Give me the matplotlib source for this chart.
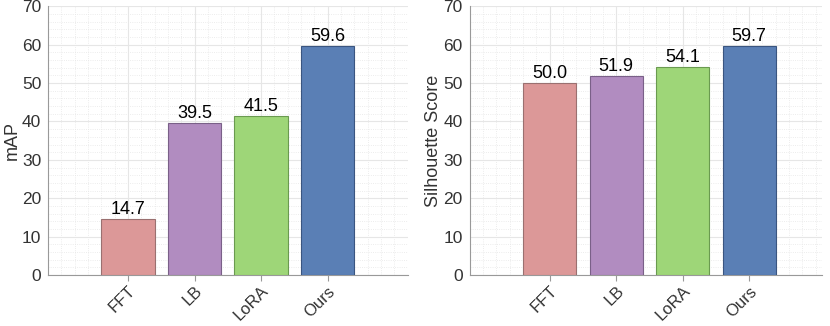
import matplotlib.pyplot as plt
from matplotlib.ticker import MultipleLocator

plt.rcParams['font.family'] = ['Liberation Sans', 'DejaVu Sans']

methods = ['FFT', 'LB', 'LoRA', 'Ours']
map_vals = [14.7, 39.5, 41.5, 59.6]
sil_vals = [50.0, 51.9, 54.1, 59.7]
colors = ['#dc9898', '#b18cc0', '#9ed678', '#5a7fb5']
edges = ['#9a7070', '#7a6088', '#6a9a50', '#3a5580']

fig = plt.figure(figsize=(8.3, 3.26), dpi=100)
ax1 = fig.add_axes([0.058, 0.156, 0.433, 0.825])
ax2 = fig.add_axes([0.566, 0.156, 0.424, 0.825])

for ax, vals, ylab, xr in [(ax1, map_vals, 'mAP', 4.2), (ax2, sil_vals, 'Silhouette Score', 4.09)]:
    x = range(len(methods))
    bars = ax.bar(x, vals, width=0.8, color=colors, edgecolor=edges, linewidth=0.8, zorder=3)
    for b, v in zip(bars, vals):
        ax.text(b.get_x() + b.get_width() / 2, v + 0.3, f'{v:.1f}', ha='center', va='bottom',
                fontsize=13, color='black', zorder=4)
    ax.set_xlim(-1.2, xr)
    ax.set_ylim(0, 70)
    ax.set_xticks(list(x))
    ax.set_xticklabels(methods, rotation=45, fontsize=12, color='#333333',
                       ha='right', va='top', rotation_mode='anchor')
    ax.yaxis.set_major_locator(MultipleLocator(10))
    ax.yaxis.set_minor_locator(MultipleLocator(2))
    ax.xaxis.set_minor_locator(MultipleLocator(0.2))
    ax.tick_params(axis='y', labelsize=12.5, colors='#333333', length=0, pad=5)
    ax.tick_params(axis='x', length=4, color='#999999', pad=2)
    ax.tick_params(which='minor', length=0)
    ax.grid(which='major', color='#e6e6e6', linewidth=0.8, zorder=0)
    ax.grid(which='minor', color='#e6e6e6', linestyle=':', linewidth=0.6, zorder=0)
    ax.set_axisbelow(True)
    for s in ['top', 'right']:
        ax.spines[s].set_visible(False)
    for s in ['left', 'bottom']:
        ax.spines[s].set_color('#999999')
        ax.spines[s].set_linewidth(0.8)
    ax.set_ylabel(ylab, fontsize=13, color='#333333', labelpad=1)

fig.savefig('out.png', dpi=100)
